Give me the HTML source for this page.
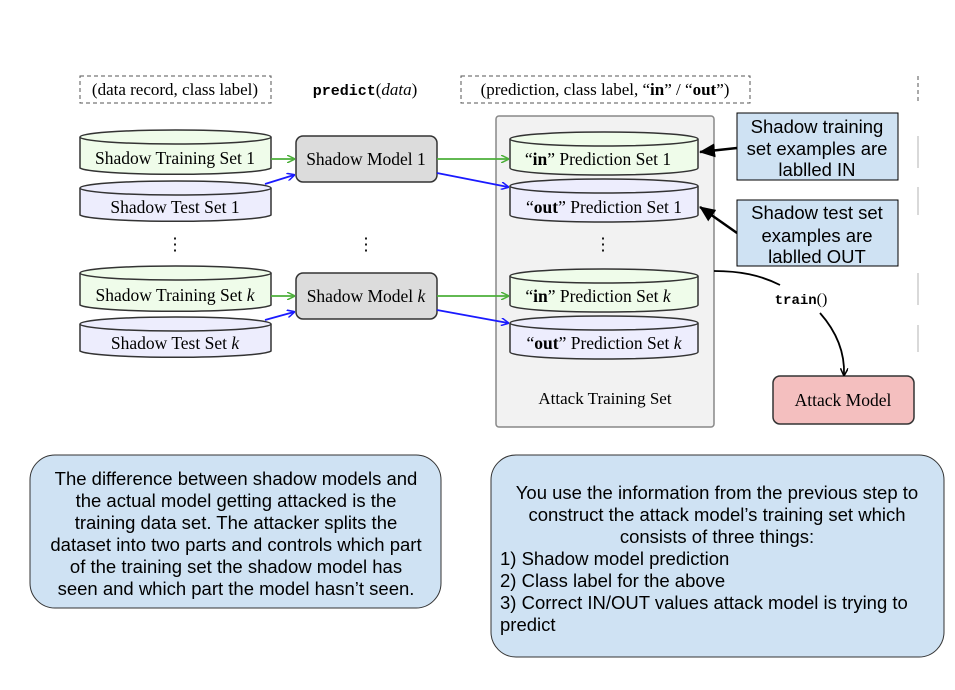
<!DOCTYPE html>
<html><head><meta charset="utf-8"><style>
body{margin:0;background:#fff;width:955px;height:685px;overflow:hidden}
svg text{font-family:"Liberation Serif",serif}
svg .s text{font-family:"Liberation Sans",sans-serif}
</style></head><body>
<svg width="955" height="685" viewBox="0 0 955 685" xmlns="http://www.w3.org/2000/svg">
<defs>
<marker id="ag" markerWidth="8" markerHeight="8" refX="7" refY="4" orient="auto" markerUnits="userSpaceOnUse"><path d="M0,0 L8,4 L0,8" fill="none" stroke="#4caf3a" stroke-width="1.5"/></marker>
<marker id="ab" markerWidth="8" markerHeight="8" refX="7" refY="4" orient="auto" markerUnits="userSpaceOnUse"><path d="M0,0 L8,4 L0,8" fill="none" stroke="#1a1aff" stroke-width="1.5"/></marker>
<marker id="ak" markerWidth="16" markerHeight="14" refX="15" refY="7" orient="auto" markerUnits="userSpaceOnUse"><path d="M0,0 L16,7 L0,14 z" fill="#000"/></marker>
<marker id="ak2" markerWidth="8" markerHeight="8" refX="7" refY="4" orient="auto" markerUnits="userSpaceOnUse"><path d="M0,0 L8,4 L0,8" fill="none" stroke="#000" stroke-width="1.5"/></marker>
</defs>
<g fill="none" stroke="#555" stroke-dasharray="4,3" stroke-width="1">
<rect x="80" y="76" width="191" height="27"/>
<rect x="461" y="76" width="289" height="27"/>
<line x1="918" y1="76" x2="918" y2="103"/>
</g>
<g stroke="#ccc" stroke-width="1.5"><line x1="918" y1="136" x2="918" y2="168"/><line x1="918" y1="187" x2="918" y2="215"/><line x1="918" y1="273" x2="918" y2="305"/><line x1="918" y1="325" x2="918" y2="352"/></g>
<text x="175" y="95" font-size="17" text-anchor="middle">(data record, class label)</text>
<text x="365" y="95" font-size="17" text-anchor="middle"><tspan font-family="Liberation Mono" font-weight="bold" font-size="15">predict</tspan>(<tspan font-style="italic">data</tspan>)</text>
<text x="605" y="95" font-size="17" text-anchor="middle">(prediction, class label, “<tspan font-weight="bold">in</tspan>” / “<tspan font-weight="bold">out</tspan>”)</text>

<rect x="496" y="116" width="218" height="311" rx="3" fill="#f2f2f2" stroke="#888" stroke-width="1.5"/>
<text x="605" y="404" font-size="17" text-anchor="middle">Attack Training Set</text>

<g stroke="#333" stroke-width="1.5">
<g fill="#effcea"><path d="M80,137 V168 A96,7 0 0 0 271,168 V137"/><ellipse cx="175.5" cy="137" rx="95.5" ry="7"/></g>
<g fill="#ededfd"><path d="M80,188 V215 A96,7 0 0 0 271,215 V188"/><ellipse cx="175.5" cy="188" rx="95.5" ry="7"/></g>
<g fill="#effcea"><path d="M80,273 V305 A96,7 0 0 0 271,305 V273"/><ellipse cx="175.5" cy="273" rx="95.5" ry="7"/></g>
<g fill="#ededfd"><path d="M80,324 V351 A96,7 0 0 0 271,351 V324"/><ellipse cx="175.5" cy="324" rx="95.5" ry="7"/></g>
<g fill="#effcea"><path d="M510,139 V168 A94,7 0 0 0 698,168 V139"/><ellipse cx="604" cy="139" rx="94" ry="7"/></g>
<g fill="#ededfd"><path d="M510,186 V215 A94,7 0 0 0 698,215 V186"/><ellipse cx="604" cy="186" rx="94" ry="7"/></g>
<g fill="#effcea"><path d="M510,276 V305 A94,7 0 0 0 698,305 V276"/><ellipse cx="604" cy="276" rx="94" ry="7"/></g>
<g fill="#ededfd"><path d="M510,323 V352 A94,7 0 0 0 698,352 V323"/><ellipse cx="604" cy="323" rx="94" ry="7"/></g>
<rect x="296" y="136" width="141" height="46" rx="7" fill="#dcdcdc"/>
<rect x="296" y="273" width="141" height="46" rx="7" fill="#dcdcdc"/>
<rect x="773" y="376" width="141" height="48" rx="7" fill="#f4bfbf"/>
</g>
<g font-size="17.5" text-anchor="middle">
<text x="175" y="164">Shadow Training Set 1</text>
<text x="175" y="213">Shadow Test Set 1</text>
<text x="175" y="301">Shadow Training Set <tspan font-style="italic">k</tspan></text>
<text x="175" y="349">Shadow Test Set <tspan font-style="italic">k</tspan></text>
<text x="366" y="165">Shadow Model 1</text>
<text x="366" y="302">Shadow Model <tspan font-style="italic">k</tspan></text>
<text x="598" y="165">“<tspan font-weight="bold">in</tspan>” Prediction Set 1</text>
<text x="604" y="213">“<tspan font-weight="bold">out</tspan>” Prediction Set 1</text>
<text x="598" y="302">“<tspan font-weight="bold">in</tspan>” Prediction Set <tspan font-style="italic">k</tspan></text>
<text x="604" y="349">“<tspan font-weight="bold">out</tspan>” Prediction Set <tspan font-style="italic">k</tspan></text>
<text x="843" y="406">Attack Model</text>
<text x="175" y="250">⋮</text><text x="366" y="250">⋮</text><text x="603" y="250">⋮</text>
</g>
<g stroke-width="1.8" fill="none">
<line x1="271" y1="159" x2="294" y2="159" stroke="#4caf3a" marker-end="url(#ag)"/>
<line x1="265" y1="184" x2="294" y2="175" stroke="#1a1aff" marker-end="url(#ab)"/>
<line x1="437" y1="159" x2="508" y2="159" stroke="#4caf3a" marker-end="url(#ag)"/>
<line x1="437" y1="173" x2="508" y2="187" stroke="#1a1aff" marker-end="url(#ab)"/>
<line x1="271" y1="296" x2="294" y2="296" stroke="#4caf3a" marker-end="url(#ag)"/>
<line x1="265" y1="320" x2="294" y2="312" stroke="#1a1aff" marker-end="url(#ab)"/>
<line x1="437" y1="296" x2="508" y2="296" stroke="#4caf3a" marker-end="url(#ag)"/>
<line x1="437" y1="310" x2="508" y2="323" stroke="#1a1aff" marker-end="url(#ab)"/>
<path d="M714,271 C740,271 760,275 780,285" stroke="#000"/>
<path d="M820,313 C835,330 845,350 844,375" stroke="#000" marker-end="url(#ak2)"/>
<line x1="737" y1="148" x2="700" y2="152" stroke="#000" stroke-width="2.5" marker-end="url(#ak)"/>
<line x1="737" y1="233" x2="700" y2="207" stroke="#000" stroke-width="2.5" marker-end="url(#ak)"/>
</g>
<text x="801" y="304" font-size="16" text-anchor="middle"><tspan font-family="Liberation Mono" font-weight="bold" font-size="14">train</tspan>()</text>

<g stroke="#000" stroke-width="1" fill="#cfe2f3">
<rect x="737" y="113" width="161" height="67"/>
<rect x="737" y="200" width="161" height="66"/>
<rect x="30" y="455" width="411" height="153" rx="25" stroke="#333"/>
<rect x="491" y="455" width="453" height="202" rx="25" stroke="#333"/>
</g>
<g class="s" font-size="18.5" text-anchor="middle" fill="#000">
<text x="817" y="133">Shadow training</text><text x="817" y="155">set examples are</text><text x="817" y="176">lablled IN</text>
<text x="817" y="219">Shadow test set</text><text x="817" y="242">examples are</text><text x="817" y="263">lablled OUT</text>
<text x="236" y="485">The  difference between shadow models and</text>
<text x="236" y="507">the actual model getting attacked is the</text>
<text x="236" y="529">training data set. The attacker splits the</text>
<text x="236" y="551">dataset into two parts and controls which part</text>
<text x="236" y="573">of the training set the shadow model has</text>
<text x="236" y="595">seen and which part the model hasn’t seen.</text>
<text x="717" y="499">You use the information from the previous step to</text>
<text x="717" y="521">construct the attack model’s training set which</text>
<text x="717" y="543">consists of three things:</text>
</g>
<g class="s" font-size="18.5" fill="#000">
<text x="500" y="565">1) Shadow model prediction</text>
<text x="500" y="587">2) Class label for the above</text>
<text x="500" y="609">3) Correct IN/OUT values attack model is trying to</text>
<text x="500" y="631">predict</text>
</g>
</svg>
</body></html>
